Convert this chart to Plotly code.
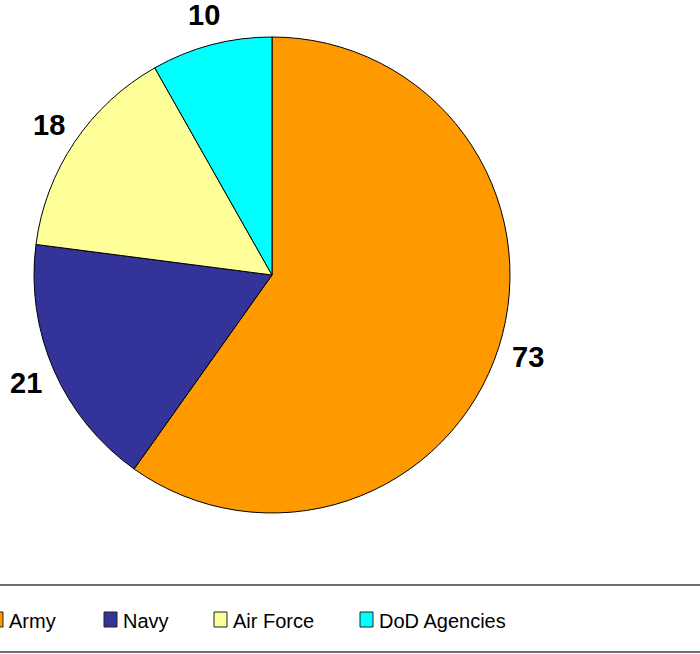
import math
import plotly.graph_objects as go

# data
labels = ["Army", "Navy", "Air Force", "DoD Agencies"]
values = [73, 21, 18, 10]
colors = ["#FF9900", "#333399", "#FFFF99", "#00FFFF"]

W, H = 700, 654
cx, cy, rad = 272, 275, 238   # pie centre / radius in px


def px_x(x):
    return x / W


def px_y(y):
    return 1 - y / H


fig = go.Figure()
fig.add_trace(go.Pie(
    labels=labels, values=values, sort=False, direction="clockwise", rotation=0,
    marker=dict(colors=colors, line=dict(color="black", width=1)),
    textinfo="none", hoverinfo="label+value", showlegend=False,
    domain=dict(x=[px_x(cx - rad), px_x(cx + rad)], y=[px_y(cy + rad), px_y(cy - rad)]),
))

# value labels outside the slices, at the mid angle of each slice
annotations = []
total = sum(values)
start = 0.0
for v in values:
    mid = math.radians((start + v / 2) / total * 360)
    start += v
    lx = cx + 1.13 * rad * math.sin(mid)
    ly = cy - 1.13 * rad * math.cos(mid)
    annotations.append(dict(
        x=px_x(lx), y=px_y(ly), xref="paper", yref="paper", text="<b>%d</b>" % v,
        showarrow=False, xanchor="center", yanchor="middle",
        font=dict(family="Liberation Sans, Arial", size=29, color="black"),
    ))

# legend drawn by hand (Excel-like spacing)
legend_marker_x = [-10, 104, 214, 360]
shapes = []
for lab, col, mx in zip(labels, colors, legend_marker_x):
    shapes.append(dict(type="rect", xref="paper", yref="paper",
                       x0=px_x(mx), x1=px_x(mx + 13), y0=px_y(627), y1=px_y(612),
                       fillcolor=col, line=dict(color="#222222", width=1)))
    annotations.append(dict(
        x=px_x(mx + 17), y=px_y(621), xref="paper", yref="paper", text=lab,
        showarrow=False, xanchor="left", yanchor="middle",
        font=dict(family="Liberation Sans, Arial", size=20, color="black"),
    ))
for ly in (585, 652):
    shapes.append(dict(type="line", xref="paper", yref="paper", x0=0, x1=1,
                       y0=px_y(ly), y1=px_y(ly), line=dict(color="#404040", width=1.5)))

fig.update_layout(
    width=W, height=H,
    margin={"r": 0, "t": 0, "l": 0, "b": 0},
    paper_bgcolor="white", plot_bgcolor="white",
    annotations=annotations, shapes=shapes,
    showlegend=False,
)

# page body has a default 8px margin; drop it so the figure sits at (0, 0)
fig.write_html("out.html", config={"displayModeBar": False},
               post_script="document.body.style.margin='0';")
